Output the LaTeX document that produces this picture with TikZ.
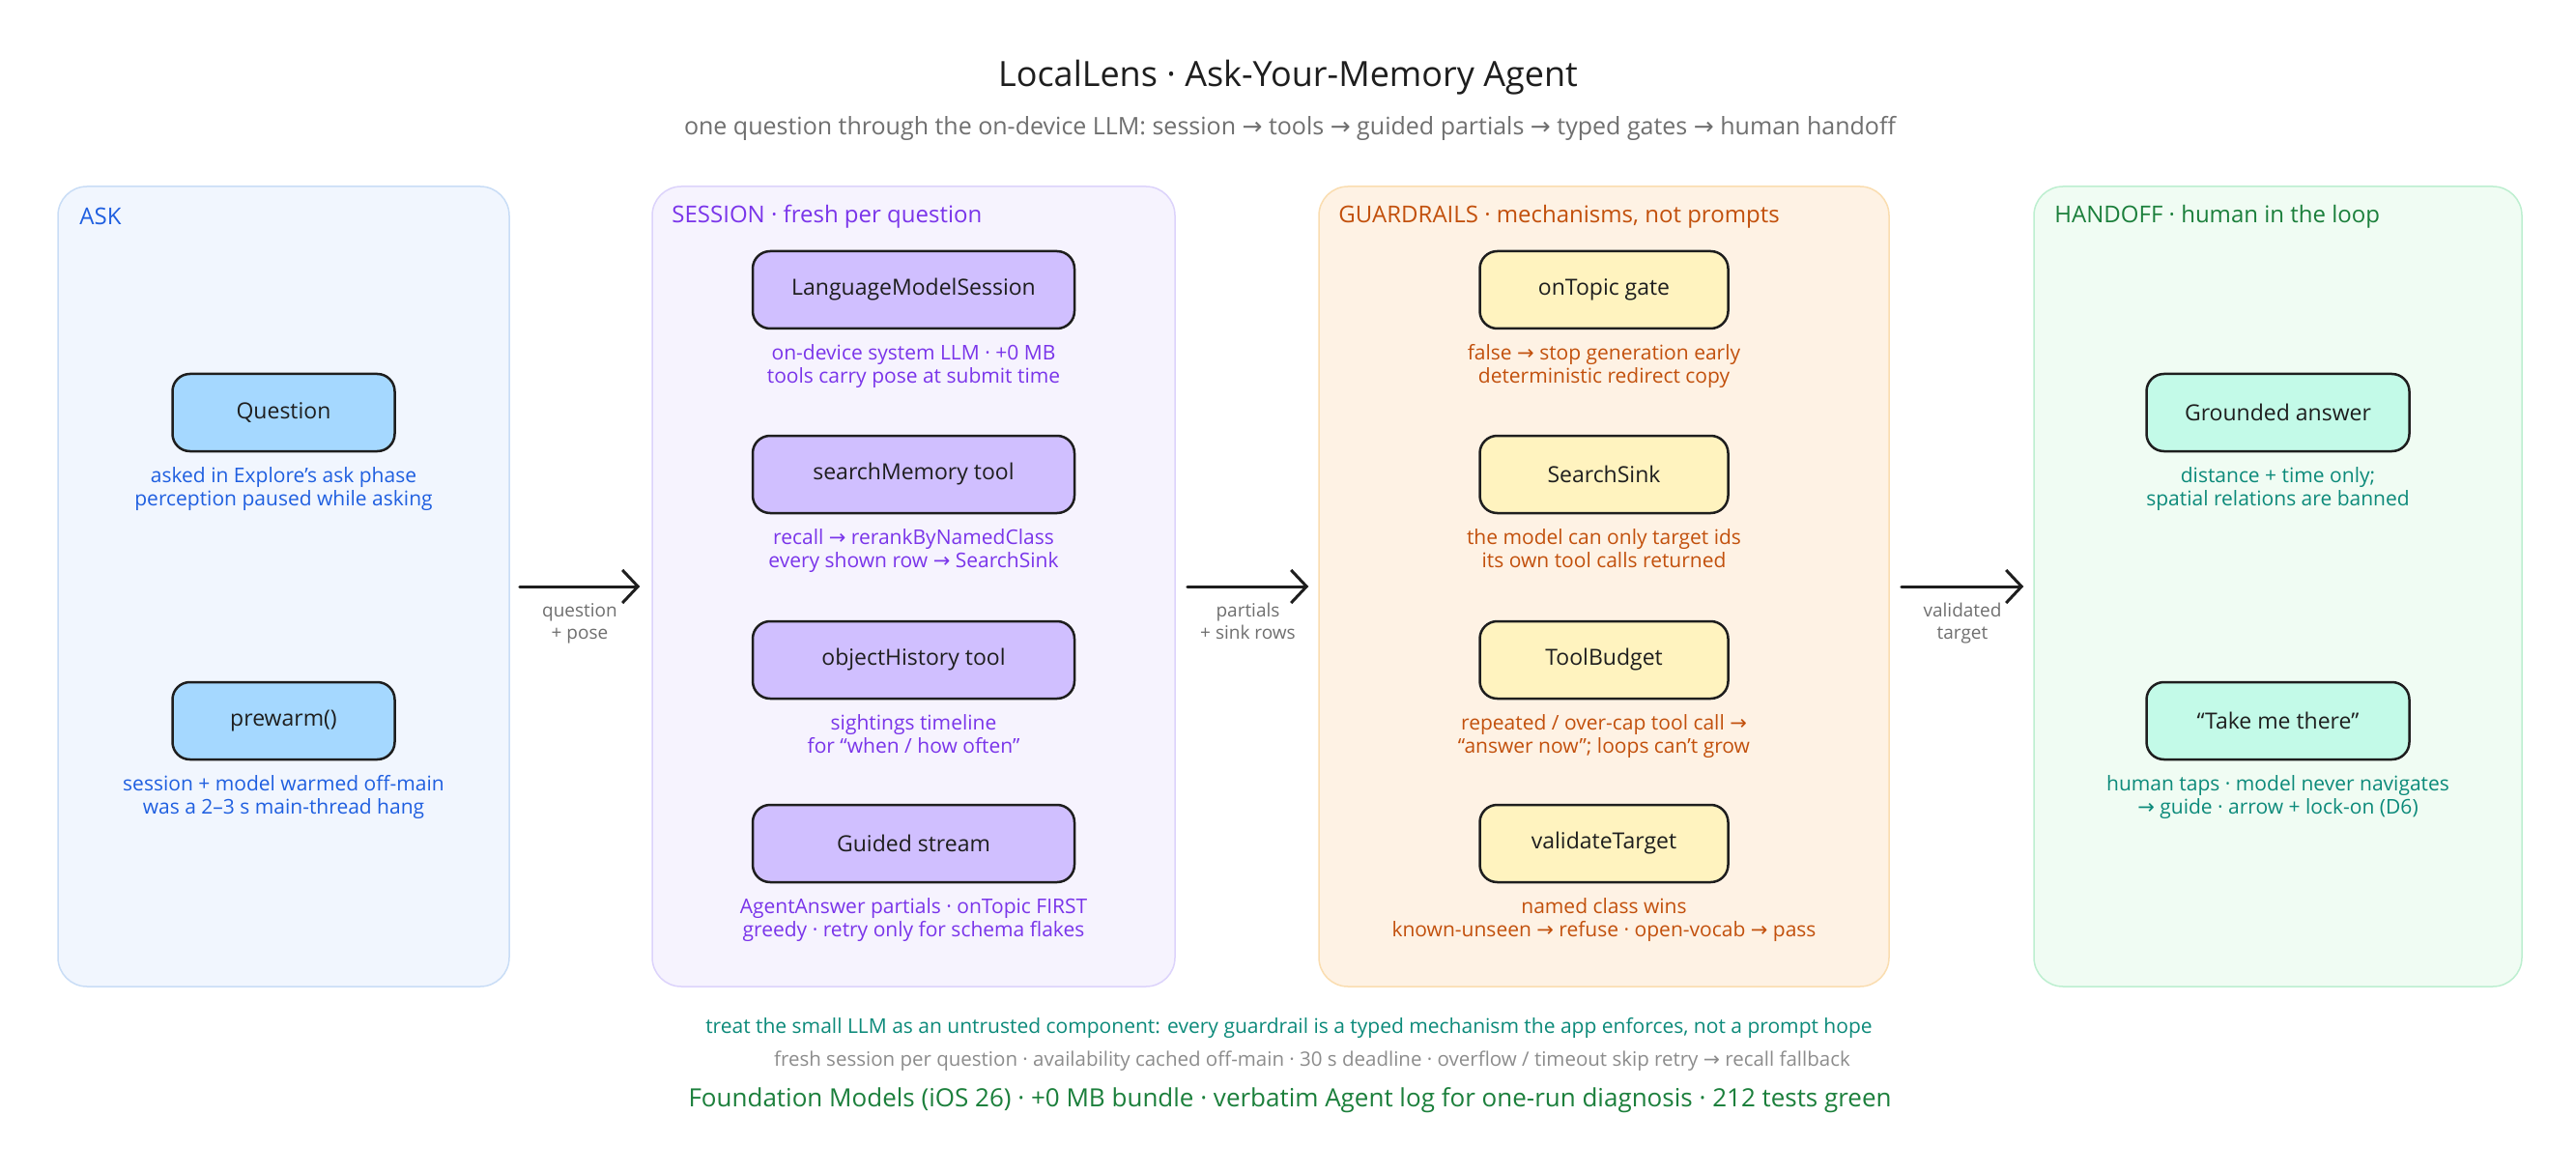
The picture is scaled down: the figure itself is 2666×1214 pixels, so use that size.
\documentclass[tikz,border=0pt]{standalone}
\usepackage{fontspec}
\setmainfont{Open Sans}
\newfontfamily\arrowfont{DejaVu Sans}
\newcommand{\ra}{{\arrowfont →}}
\usetikzlibrary{arrows.meta,positioning}

\begin{document}
\begin{tikzpicture}[x=1pt,y=-1pt]
  \definecolor{ink}{HTML}{1E1E1E}
  \definecolor{note}{HTML}{6F6F6F}
  \definecolor{askfill}{HTML}{F1F6FE}
  \definecolor{askline}{HTML}{C9DDF6}
  \definecolor{asktext}{HTML}{1F5FE0}
  \definecolor{asknode}{HTML}{A5D8FF}
  \definecolor{sesfill}{HTML}{F6F3FE}
  \definecolor{sesline}{HTML}{DCD3FB}
  \definecolor{sestext}{HTML}{7A35EA}
  \definecolor{sesnode}{HTML}{D0BFFF}
  \definecolor{gdfill}{HTML}{FEF2E4}
  \definecolor{gdline}{HTML}{FADDB0}
  \definecolor{gdtext}{HTML}{C2500C}
  \definecolor{gdnode}{HTML}{FFF3BF}
  \definecolor{hofill}{HTML}{F0FCF3}
  \definecolor{holine}{HTML}{BDEFD0}
  \definecolor{hotext}{HTML}{1B7F3B}
  \definecolor{hocap}{HTML}{0C8A7A}
  \definecolor{honode}{HTML}{C3FAE8}
  \tikzstyle{every node}=[align=center, inner sep=0pt, font=\fontsize{21}{24}\selectfont]
  \tikzstyle{panel}=[draw, line width=1.5pt, rounded corners=30pt, minimum height=828pt]
  \tikzstyle{box}=[draw=ink, line width=2.5pt, rounded corners=18pt, minimum height=80pt, text=ink, font=\fontsize{23}{28}\selectfont]
  \tikzstyle{head}=[anchor=west, font=\fontsize{24}{28}\selectfont]
  \tikzstyle{flow}=[draw=ink, line width=3pt, line cap=round, -{Straight Barb[length=16pt,width=34pt]}]
  \tikzstyle{flowlabel}=[below=16pt, text=note, font=\fontsize{19}{23}\selectfont]

  \useasboundingbox[fill=white] (0,0) rectangle (2666,1214);

  \node[text=ink, font=\fontsize{36}{42}\selectfont] (title) at (1333,80) {LocalLens · Ask-Your-Memory Agent};
  \node[text=note, font=\fontsize{25}{30}\selectfont] (subtitle) at (1335,133)
    {one question through the on-device LLM: session \ra{} tools \ra{} guided partials \ra{} typed gates \ra{} human handoff};

  \node[panel, draw=askline, fill=askfill, minimum width=467pt] (askp) at (293.5,607) {};
  \node[panel, draw=sesline, fill=sesfill, minimum width=541pt] (sesp) at (945.5,607) {};
  \node[panel, draw=gdline, fill=gdfill, minimum width=590pt] (gdp) at (1660,607) {};
  \node[panel, draw=holine, fill=hofill, minimum width=505pt] (hop) at (2357.5,607) {};

  \node[head, text=asktext] (askh) at ([xshift=23pt,yshift=-32pt]askp.north west) {ASK};
  \node[head, text=sestext] (sesh) at ([xshift=21pt,yshift=-32pt]sesp.north west) {SESSION · fresh per question};
  \node[head, text=gdtext] (gdh) at ([xshift=21pt,yshift=-32pt]gdp.north west) {GUARDRAILS · mechanisms, not prompts};
  \node[head, text=hotext] (hoh) at ([xshift=22pt,yshift=-32pt]hop.north west) {HANDOFF · human in the loop};

  \node[box, fill=asknode, minimum width=230pt] (question) at (293.5,427) {Question};
  \node[text=asktext, below=15pt of question] (questioncap) {asked in Explore's ask phase\\perception paused while asking};
  \node[box, fill=asknode, minimum width=230pt] (prewarm) at (293.5,746) {prewarm()};
  \node[text=asktext, below=15pt of prewarm] (prewarmcap) {session + model warmed off-main\\was a 2–3 s main-thread hang};

  \node[box, fill=sesnode, minimum width=333pt] (session) at (945.5,300) {LanguageModelSession};
  \node[text=sestext, below=15pt of session] (sessioncap) {on-device system LLM · +0 MB\\tools carry pose at submit time};
  \node[box, fill=sesnode, minimum width=333pt] (search) at (945.5,491) {searchMemory tool};
  \node[text=sestext, below=15pt of search] (searchcap) {recall \ra{} rerankByNamedClass\\every shown row \ra{} SearchSink};
  \node[box, fill=sesnode, minimum width=333pt] (history) at (945.5,683) {objectHistory tool};
  \node[text=sestext, below=15pt of history] (historycap) {sightings timeline\\for “when / how often”};
  \node[box, fill=sesnode, minimum width=333pt] (stream) at (945.5,873) {Guided stream};
  \node[text=sestext, below=15pt of stream] (streamcap) {AgentAnswer partials · onTopic FIRST\\greedy · retry only for schema flakes};

  \node[box, fill=gdnode, minimum width=257pt] (ontopic) at (1660,300) {onTopic gate};
  \node[text=gdtext, below=15pt of ontopic] (ontopiccap) {false \ra{} stop generation early\\deterministic redirect copy};
  \node[box, fill=gdnode, minimum width=257pt] (sink) at (1660,491) {SearchSink};
  \node[text=gdtext, below=15pt of sink] (sinkcap) {the model can only target ids\\its own tool calls returned};
  \node[box, fill=gdnode, minimum width=257pt] (budget) at (1660,683) {ToolBudget};
  \node[text=gdtext, below=15pt of budget] (budgetcap) {repeated / over-cap tool call \ra\\“answer now”; loops can't grow};
  \node[box, fill=gdnode, minimum width=257pt] (validate) at (1660,873) {validateTarget};
  \node[text=gdtext, below=15pt of validate] (validatecap) {named class wins\\known-unseen \ra{} refuse · open-vocab \ra{} pass};

  \node[box, fill=honode, minimum width=272pt] (answer) at (2357.5,427) {Grounded answer};
  \node[text=hocap, below=15pt of answer] (answercap) {distance + time only;\\spatial relations are banned};
  \node[box, fill=honode, minimum width=272pt] (takeme) at (2357.5,746) {“Take me there”};
  \node[text=hocap, below=15pt of takeme] (takemecap) {human taps · model never navigates\\\ra{} guide · arrow + lock-on (D6)};

  \draw[flow] ([xshift=10pt]askp.east) -- node[flowlabel] {question\\+ pose} ([xshift=-12pt]sesp.west);
  \draw[flow] ([xshift=12pt]sesp.east) -- node[flowlabel] {partials\\+ sink rows} ([xshift=-10pt]gdp.west);
  \draw[flow] ([xshift=12pt]gdp.east) -- node[flowlabel] {validated\\target} ([xshift=-10pt]hop.west);

  \node[text=hocap, font=\fontsize{21}{25}\selectfont] (moral) at (1334,1064)
    {treat the small LLM as an untrusted component: every guardrail is a typed mechanism the app enforces, not a prompt hope};
  \node[text=note!80, font=\fontsize{20.5}{24}\selectfont] (facts) at (1358,1098)
    {fresh session per question · availability cached off-main · 30 s deadline · overflow / timeout skip retry \ra{} recall fallback};
  \node[text=hotext, font=\fontsize{26}{30}\selectfont] (footer) at (1335,1139)
    {Foundation Models (iOS 26) · +0 MB bundle · verbatim Agent log for one-run diagnosis · 212 tests green};
\end{tikzpicture}
\end{document}
